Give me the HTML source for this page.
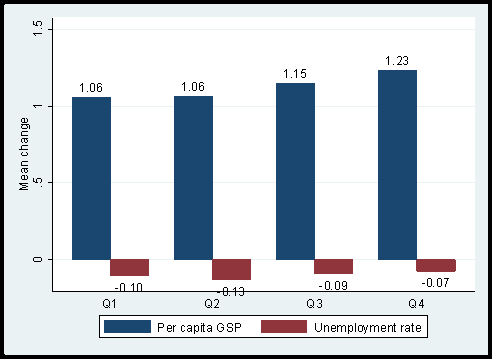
<!DOCTYPE html>
<html>
<head>
<meta charset="utf-8">
<style>
html,body{margin:0;padding:0;background:#000;}
body{width:492px;height:359px;overflow:hidden;}
svg{display:block;}
</style>
</head>
<body>
<svg width="492" height="359" viewBox="0 0 492 359" shape-rendering="crispEdges">
<rect x="0" y="0" width="492" height="359" fill="#000"/>
<rect x="4" y="4" width="484" height="351" fill="#eaf2f3"/>
<rect x="4" y="4" width="1" height="1" fill="#000"/>
<rect x="4" y="354" width="1" height="1" fill="#000"/>
<rect x="52" y="17" width="423" height="275" fill="#fff"/>
<g fill="#eaf2f3">
<rect x="53" y="29" width="422" height="1"/>
<rect x="53" y="106" width="422" height="1"/>
<rect x="53" y="182" width="422" height="1"/>
<rect x="53" y="259" width="422" height="1"/>
</g>
<rect x="99.5" y="315.5" width="328" height="22" fill="#fff" stroke="#000" stroke-width="1"/>
<g fill="#1a476f">
<rect x="72" y="97" width="39" height="163"/>
<rect x="174" y="96" width="39" height="164"/>
<rect x="104" y="320" width="47" height="13"/>
</g>
<g fill="#90353b">
<rect x="110" y="259" width="39" height="17"/>
<rect x="212" y="259" width="39" height="21"/>
<rect x="314" y="259" width="39" height="15"/>
<rect x="417" y="259" width="38" height="13"/>
<rect x="416" y="260" width="40" height="11"/>
<rect x="261" y="320" width="46" height="13"/>
</g>
<g fill="#1a476f">
<rect x="276" y="83" width="39" height="177"/>
<rect x="378" y="70" width="39" height="190"/>
</g>
<g fill="#000">
<rect x="52" y="18" width="1" height="274"/>
<rect x="52" y="291" width="423" height="1"/>
<rect x="48" y="29" width="4" height="1"/>
<rect x="48" y="106" width="4" height="1"/>
<rect x="48" y="182" width="4" height="1"/>
<rect x="48" y="259" width="4" height="1"/>
</g>
<path fill="#000" d="M33 21h1v1h-1zM37 21h4v1h-4zM33 22h1v1h-1zM36 22h1v1h-1zM41 22h1v1h-1zM33 23h1v1h-1zM36 23h1v1h-1zM41 23h1v1h-1zM33 24h2v1h-2zM36 24h1v1h-1zM41 24h1v1h-1zM35 25h3v1h-3zM40 25h1v1h-1zM41 28h1v1h-1zM33 33h9v1h-9zM34 34h1v1h-1zM35 35h1v1h-1zM388 56h1v1h-1zM398 56h3v1h-3zM404 56h3v1h-3zM387 57h2v1h-2zM397 57h1v1h-1zM401 57h1v1h-1zM403 57h1v1h-1zM407 57h1v1h-1zM386 58h1v1h-1zM388 58h1v1h-1zM401 58h1v1h-1zM407 58h1v1h-1zM388 59h1v1h-1zM401 59h1v1h-1zM407 59h1v1h-1zM388 60h1v1h-1zM400 60h1v1h-1zM405 60h2v1h-2zM388 61h1v1h-1zM400 61h1v1h-1zM407 61h1v1h-1zM388 62h1v1h-1zM399 62h1v1h-1zM407 62h1v1h-1zM388 63h1v1h-1zM398 63h1v1h-1zM403 63h1v1h-1zM407 63h1v1h-1zM388 64h1v1h-1zM393 64h1v1h-1zM397 64h5v1h-5zM404 64h3v1h-3zM286 69h1v1h-1zM296 69h1v1h-1zM302 69h4v1h-4zM285 70h2v1h-2zM295 70h2v1h-2zM302 70h1v1h-1zM284 71h1v1h-1zM286 71h1v1h-1zM294 71h1v1h-1zM296 71h1v1h-1zM301 71h1v1h-1zM286 72h1v1h-1zM296 72h1v1h-1zM301 72h4v1h-4zM286 73h1v1h-1zM296 73h1v1h-1zM301 73h1v1h-1zM305 73h1v1h-1zM286 74h1v1h-1zM296 74h1v1h-1zM305 74h1v1h-1zM286 75h1v1h-1zM296 75h1v1h-1zM305 75h1v1h-1zM286 76h1v1h-1zM296 76h1v1h-1zM301 76h1v1h-1zM305 76h1v1h-1zM286 77h1v1h-1zM291 77h1v1h-1zM296 77h1v1h-1zM302 77h3v1h-3zM184 82h1v1h-1zM193 82h3v1h-3zM200 82h3v1h-3zM82 83h1v1h-1zM91 83h3v1h-3zM98 83h3v1h-3zM183 83h2v1h-2zM192 83h1v1h-1zM196 83h1v1h-1zM199 83h1v1h-1zM203 83h1v1h-1zM81 84h2v1h-2zM90 84h1v1h-1zM94 84h1v1h-1zM97 84h1v1h-1zM101 84h1v1h-1zM182 84h1v1h-1zM184 84h1v1h-1zM192 84h1v1h-1zM196 84h1v1h-1zM199 84h1v1h-1zM80 85h1v1h-1zM82 85h1v1h-1zM90 85h1v1h-1zM94 85h1v1h-1zM97 85h1v1h-1zM184 85h1v1h-1zM192 85h1v1h-1zM196 85h1v1h-1zM199 85h1v1h-1zM201 85h2v1h-2zM82 86h1v1h-1zM90 86h1v1h-1zM94 86h1v1h-1zM97 86h1v1h-1zM99 86h2v1h-2zM184 86h1v1h-1zM192 86h1v1h-1zM196 86h1v1h-1zM199 86h2v1h-2zM203 86h1v1h-1zM82 87h1v1h-1zM90 87h1v1h-1zM94 87h1v1h-1zM97 87h2v1h-2zM101 87h1v1h-1zM184 87h1v1h-1zM192 87h1v1h-1zM196 87h1v1h-1zM199 87h1v1h-1zM203 87h1v1h-1zM82 88h1v1h-1zM90 88h1v1h-1zM94 88h1v1h-1zM97 88h1v1h-1zM101 88h1v1h-1zM184 88h1v1h-1zM192 88h1v1h-1zM196 88h1v1h-1zM199 88h1v1h-1zM203 88h1v1h-1zM82 89h1v1h-1zM90 89h1v1h-1zM94 89h1v1h-1zM97 89h1v1h-1zM101 89h1v1h-1zM184 89h1v1h-1zM192 89h1v1h-1zM196 89h1v1h-1zM199 89h1v1h-1zM203 89h1v1h-1zM82 90h1v1h-1zM90 90h1v1h-1zM94 90h1v1h-1zM97 90h1v1h-1zM101 90h1v1h-1zM184 90h1v1h-1zM189 90h1v1h-1zM193 90h3v1h-3zM200 90h3v1h-3zM82 91h1v1h-1zM87 91h1v1h-1zM91 91h3v1h-3zM98 91h3v1h-3zM33 105h9v1h-9zM34 106h1v1h-1zM35 107h1v1h-1zM22 118h3v1h-3zM26 118h1v1h-1zM21 119h1v1h-1zM24 119h1v1h-1zM27 119h1v1h-1zM21 120h1v1h-1zM24 120h1v1h-1zM27 120h1v1h-1zM21 121h1v1h-1zM24 121h1v1h-1zM27 121h1v1h-1zM22 122h5v1h-5zM21 124h8v1h-8zM22 125h1v1h-1zM26 125h1v1h-1zM29 125h1v1h-1zM21 126h1v1h-1zM27 126h1v1h-1zM29 126h1v1h-1zM21 127h1v1h-1zM27 127h1v1h-1zM29 127h1v1h-1zM22 128h5v1h-5zM29 128h1v1h-1zM22 131h6v1h-6zM21 132h1v1h-1zM21 133h1v1h-1zM21 134h1v1h-1zM21 135h7v1h-7zM22 138h6v1h-6zM21 139h1v1h-1zM24 139h1v1h-1zM26 139h1v1h-1zM21 140h1v1h-1zM24 140h1v1h-1zM27 140h1v1h-1zM21 141h1v1h-1zM24 141h1v1h-1zM27 141h1v1h-1zM22 142h1v1h-1zM25 142h2v1h-2zM22 145h6v1h-6zM21 146h1v1h-1zM21 147h1v1h-1zM21 148h1v1h-1zM19 149h9v1h-9zM22 152h1v1h-1zM26 152h1v1h-1zM21 153h1v1h-1zM27 153h1v1h-1zM21 154h1v1h-1zM27 154h1v1h-1zM22 155h5v1h-5zM22 161h6v1h-6zM21 162h1v1h-1zM21 163h1v1h-1zM21 164h1v1h-1zM21 165h7v1h-7zM22 168h6v1h-6zM21 169h1v1h-1zM24 169h1v1h-1zM26 169h1v1h-1zM21 170h1v1h-1zM24 170h1v1h-1zM27 170h1v1h-1zM21 171h1v1h-1zM24 171h1v1h-1zM27 171h1v1h-1zM22 172h1v1h-1zM25 172h2v1h-2zM22 175h3v1h-3zM26 175h1v1h-1zM21 176h1v1h-1zM24 176h1v1h-1zM27 176h1v1h-1zM21 177h1v1h-1zM24 177h1v1h-1zM27 177h1v1h-1zM21 178h1v1h-1zM24 178h1v1h-1zM27 178h1v1h-1zM33 178h1v1h-1zM37 178h4v1h-4zM22 179h5v1h-5zM33 179h1v1h-1zM36 179h1v1h-1zM41 179h1v1h-1zM33 180h1v1h-1zM36 180h1v1h-1zM41 180h1v1h-1zM33 181h2v1h-2zM36 181h1v1h-1zM41 181h1v1h-1zM35 182h3v1h-3zM40 182h1v1h-1zM19 183h9v1h-9zM20 184h2v1h-2zM22 185h4v1h-4zM26 186h2v1h-2zM41 186h1v1h-1zM22 187h4v1h-4zM20 188h2v1h-2zM19 189h9v1h-9zM34 257h7v1h-7zM33 258h1v1h-1zM41 258h1v1h-1zM33 259h1v1h-1zM41 259h1v1h-1zM33 260h1v1h-1zM41 260h1v1h-1zM34 261h7v1h-7zM428 278h3v1h-3zM438 278h3v1h-3zM444 278h5v1h-5zM427 279h1v1h-1zM431 279h1v1h-1zM437 279h1v1h-1zM441 279h1v1h-1zM447 279h1v1h-1zM427 280h1v1h-1zM431 280h1v1h-1zM437 280h1v1h-1zM441 280h1v1h-1zM447 280h1v1h-1zM326 281h3v1h-3zM336 281h3v1h-3zM343 281h3v1h-3zM427 281h1v1h-1zM431 281h1v1h-1zM437 281h1v1h-1zM441 281h1v1h-1zM446 281h1v1h-1zM325 282h1v1h-1zM329 282h1v1h-1zM335 282h1v1h-1zM339 282h1v1h-1zM342 282h1v1h-1zM346 282h1v1h-1zM427 282h1v1h-1zM431 282h1v1h-1zM437 282h1v1h-1zM441 282h1v1h-1zM446 282h1v1h-1zM121 283h3v1h-3zM133 283h1v1h-1zM138 283h3v1h-3zM325 283h1v1h-1zM329 283h1v1h-1zM335 283h1v1h-1zM339 283h1v1h-1zM342 283h1v1h-1zM346 283h1v1h-1zM422 283h3v1h-3zM427 283h1v1h-1zM431 283h1v1h-1zM437 283h1v1h-1zM441 283h1v1h-1zM446 283h1v1h-1zM120 284h1v1h-1zM124 284h1v1h-1zM132 284h2v1h-2zM137 284h1v1h-1zM141 284h1v1h-1zM325 284h1v1h-1zM329 284h1v1h-1zM335 284h1v1h-1zM339 284h1v1h-1zM342 284h1v1h-1zM346 284h1v1h-1zM427 284h1v1h-1zM431 284h1v1h-1zM437 284h1v1h-1zM441 284h1v1h-1zM445 284h1v1h-1zM120 285h1v1h-1zM124 285h1v1h-1zM131 285h1v1h-1zM133 285h1v1h-1zM137 285h1v1h-1zM141 285h1v1h-1zM325 285h1v1h-1zM329 285h1v1h-1zM335 285h1v1h-1zM339 285h1v1h-1zM342 285h1v1h-1zM345 285h2v1h-2zM427 285h1v1h-1zM431 285h1v1h-1zM437 285h1v1h-1zM441 285h1v1h-1zM445 285h1v1h-1zM120 286h1v1h-1zM124 286h1v1h-1zM133 286h1v1h-1zM137 286h1v1h-1zM141 286h1v1h-1zM319 286h3v1h-3zM325 286h1v1h-1zM329 286h1v1h-1zM335 286h1v1h-1zM339 286h1v1h-1zM343 286h2v1h-2zM346 286h1v1h-1zM428 286h3v1h-3zM433 286h1v1h-1zM438 286h3v1h-3zM445 286h1v1h-1zM120 287h1v1h-1zM124 287h1v1h-1zM133 287h1v1h-1zM137 287h1v1h-1zM141 287h1v1h-1zM224 287h3v1h-3zM235 287h1v1h-1zM240 287h3v1h-3zM325 287h1v1h-1zM329 287h1v1h-1zM335 287h1v1h-1zM339 287h1v1h-1zM346 287h1v1h-1zM115 288h3v1h-3zM120 288h1v1h-1zM124 288h1v1h-1zM133 288h1v1h-1zM137 288h1v1h-1zM141 288h1v1h-1zM223 288h1v1h-1zM227 288h1v1h-1zM234 288h2v1h-2zM239 288h1v1h-1zM243 288h1v1h-1zM325 288h1v1h-1zM329 288h1v1h-1zM335 288h1v1h-1zM339 288h1v1h-1zM342 288h1v1h-1zM346 288h1v1h-1zM120 289h1v1h-1zM124 289h1v1h-1zM133 289h1v1h-1zM137 289h1v1h-1zM141 289h1v1h-1zM223 289h1v1h-1zM227 289h1v1h-1zM233 289h1v1h-1zM235 289h1v1h-1zM243 289h1v1h-1zM326 289h3v1h-3zM331 289h1v1h-1zM336 289h3v1h-3zM343 289h3v1h-3zM120 290h1v1h-1zM124 290h1v1h-1zM133 290h1v1h-1zM137 290h1v1h-1zM141 290h1v1h-1zM223 290h1v1h-1zM227 290h1v1h-1zM235 290h1v1h-1zM243 290h1v1h-1zM121 291h3v1h-3zM126 291h1v1h-1zM133 291h1v1h-1zM138 291h3v1h-3zM223 291h1v1h-1zM227 291h1v1h-1zM235 291h1v1h-1zM241 291h2v1h-2zM217 292h3v1h-3zM223 292h1v1h-1zM227 292h1v1h-1zM235 292h1v1h-1zM243 292h1v1h-1zM223 293h1v1h-1zM227 293h1v1h-1zM235 293h1v1h-1zM243 293h1v1h-1zM223 294h1v1h-1zM227 294h1v1h-1zM235 294h1v1h-1zM239 294h1v1h-1zM243 294h1v1h-1zM224 295h3v1h-3zM229 295h1v1h-1zM235 295h1v1h-1zM240 295h3v1h-3zM105 299h3v1h-3zM114 299h1v1h-1zM207 299h3v1h-3zM215 299h3v1h-3zM309 299h3v1h-3zM318 299h3v1h-3zM411 299h3v1h-3zM422 299h1v1h-1zM104 300h1v1h-1zM108 300h1v1h-1zM113 300h2v1h-2zM206 300h1v1h-1zM210 300h1v1h-1zM214 300h1v1h-1zM218 300h1v1h-1zM308 300h1v1h-1zM312 300h1v1h-1zM317 300h1v1h-1zM321 300h1v1h-1zM410 300h1v1h-1zM414 300h1v1h-1zM421 300h2v1h-2zM103 301h1v1h-1zM109 301h1v1h-1zM112 301h1v1h-1zM114 301h1v1h-1zM205 301h1v1h-1zM211 301h1v1h-1zM218 301h1v1h-1zM307 301h1v1h-1zM313 301h1v1h-1zM321 301h1v1h-1zM409 301h1v1h-1zM415 301h1v1h-1zM421 301h2v1h-2zM103 302h1v1h-1zM109 302h1v1h-1zM114 302h1v1h-1zM205 302h1v1h-1zM211 302h1v1h-1zM218 302h1v1h-1zM307 302h1v1h-1zM313 302h1v1h-1zM321 302h1v1h-1zM409 302h1v1h-1zM415 302h1v1h-1zM420 302h1v1h-1zM422 302h1v1h-1zM103 303h1v1h-1zM109 303h1v1h-1zM114 303h1v1h-1zM205 303h1v1h-1zM211 303h1v1h-1zM217 303h1v1h-1zM307 303h1v1h-1zM313 303h1v1h-1zM319 303h2v1h-2zM409 303h1v1h-1zM415 303h1v1h-1zM420 303h1v1h-1zM422 303h1v1h-1zM103 304h1v1h-1zM109 304h1v1h-1zM114 304h1v1h-1zM205 304h1v1h-1zM211 304h1v1h-1zM217 304h1v1h-1zM307 304h1v1h-1zM313 304h1v1h-1zM321 304h1v1h-1zM409 304h1v1h-1zM415 304h1v1h-1zM419 304h1v1h-1zM422 304h1v1h-1zM103 305h1v1h-1zM106 305h2v1h-2zM109 305h1v1h-1zM114 305h1v1h-1zM205 305h1v1h-1zM208 305h2v1h-2zM211 305h1v1h-1zM216 305h1v1h-1zM307 305h1v1h-1zM310 305h2v1h-2zM313 305h1v1h-1zM321 305h1v1h-1zM409 305h1v1h-1zM412 305h2v1h-2zM415 305h1v1h-1zM419 305h5v1h-5zM104 306h1v1h-1zM108 306h1v1h-1zM114 306h1v1h-1zM206 306h1v1h-1zM210 306h1v1h-1zM215 306h1v1h-1zM308 306h1v1h-1zM312 306h1v1h-1zM317 306h1v1h-1zM321 306h1v1h-1zM410 306h1v1h-1zM414 306h1v1h-1zM422 306h1v1h-1zM105 307h3v1h-3zM109 307h1v1h-1zM114 307h1v1h-1zM207 307h3v1h-3zM211 307h1v1h-1zM214 307h5v1h-5zM309 307h3v1h-3zM313 307h1v1h-1zM318 307h3v1h-3zM411 307h3v1h-3zM415 307h1v1h-1zM422 307h1v1h-1zM158 323h5v1h-5zM201 323h1v1h-1zM203 323h1v1h-1zM219 323h3v1h-3zM228 323h4v1h-4zM235 323h5v1h-5zM315 323h1v1h-1zM321 323h1v1h-1zM355 323h1v1h-1zM394 323h1v1h-1zM412 323h1v1h-1zM158 324h1v1h-1zM163 324h1v1h-1zM203 324h1v1h-1zM218 324h1v1h-1zM222 324h1v1h-1zM227 324h1v1h-1zM232 324h1v1h-1zM235 324h1v1h-1zM240 324h1v1h-1zM315 324h1v1h-1zM321 324h1v1h-1zM355 324h1v1h-1zM394 324h1v1h-1zM412 324h1v1h-1zM158 325h1v1h-1zM163 325h1v1h-1zM168 325h3v1h-3zM173 325h1v1h-1zM175 325h1v1h-1zM182 325h2v1h-2zM188 325h3v1h-3zM194 325h1v1h-1zM196 325h2v1h-2zM201 325h4v1h-4zM208 325h3v1h-3zM217 325h1v1h-1zM223 325h1v1h-1zM227 325h1v1h-1zM232 325h1v1h-1zM235 325h1v1h-1zM240 325h1v1h-1zM315 325h1v1h-1zM321 325h1v1h-1zM324 325h1v1h-1zM326 325h2v1h-2zM332 325h3v1h-3zM337 325h1v1h-1zM339 325h2v1h-2zM343 325h2v1h-2zM348 325h1v1h-1zM350 325h2v1h-2zM355 325h1v1h-1zM359 325h3v1h-3zM363 325h1v1h-1zM367 325h1v1h-1zM370 325h1v1h-1zM372 325h2v1h-2zM376 325h2v1h-2zM382 325h3v1h-3zM388 325h1v1h-1zM390 325h2v1h-2zM393 325h3v1h-3zM401 325h1v1h-1zM403 325h1v1h-1zM406 325h3v1h-3zM411 325h3v1h-3zM417 325h3v1h-3zM158 326h1v1h-1zM163 326h1v1h-1zM167 326h1v1h-1zM171 326h1v1h-1zM173 326h2v1h-2zM181 326h1v1h-1zM184 326h1v1h-1zM187 326h1v1h-1zM191 326h1v1h-1zM194 326h2v1h-2zM198 326h1v1h-1zM201 326h1v1h-1zM203 326h1v1h-1zM207 326h1v1h-1zM211 326h1v1h-1zM217 326h1v1h-1zM227 326h1v1h-1zM235 326h1v1h-1zM240 326h1v1h-1zM315 326h1v1h-1zM321 326h1v1h-1zM324 326h2v1h-2zM328 326h1v1h-1zM331 326h1v1h-1zM335 326h1v1h-1zM337 326h2v1h-2zM341 326h2v1h-2zM345 326h1v1h-1zM348 326h2v1h-2zM352 326h1v1h-1zM355 326h1v1h-1zM358 326h1v1h-1zM362 326h2v1h-2zM367 326h1v1h-1zM370 326h2v1h-2zM374 326h2v1h-2zM378 326h1v1h-1zM381 326h1v1h-1zM385 326h1v1h-1zM388 326h2v1h-2zM392 326h1v1h-1zM394 326h1v1h-1zM401 326h2v1h-2zM405 326h1v1h-1zM409 326h1v1h-1zM412 326h1v1h-1zM416 326h1v1h-1zM420 326h1v1h-1zM158 327h5v1h-5zM167 327h1v1h-1zM171 327h1v1h-1zM173 327h1v1h-1zM181 327h1v1h-1zM191 327h1v1h-1zM194 327h1v1h-1zM198 327h1v1h-1zM201 327h1v1h-1zM203 327h1v1h-1zM211 327h1v1h-1zM217 327h1v1h-1zM221 327h3v1h-3zM228 327h4v1h-4zM235 327h5v1h-5zM315 327h1v1h-1zM321 327h1v1h-1zM324 327h1v1h-1zM328 327h1v1h-1zM331 327h1v1h-1zM335 327h1v1h-1zM337 327h1v1h-1zM341 327h1v1h-1zM345 327h1v1h-1zM348 327h1v1h-1zM352 327h1v1h-1zM355 327h1v1h-1zM358 327h1v1h-1zM362 327h1v1h-1zM364 327h1v1h-1zM366 327h1v1h-1zM370 327h1v1h-1zM374 327h1v1h-1zM378 327h1v1h-1zM381 327h1v1h-1zM385 327h1v1h-1zM388 327h1v1h-1zM392 327h1v1h-1zM394 327h1v1h-1zM401 327h1v1h-1zM409 327h1v1h-1zM412 327h1v1h-1zM416 327h1v1h-1zM420 327h1v1h-1zM158 328h1v1h-1zM167 328h5v1h-5zM173 328h1v1h-1zM181 328h1v1h-1zM188 328h4v1h-4zM194 328h1v1h-1zM198 328h1v1h-1zM201 328h1v1h-1zM203 328h1v1h-1zM208 328h4v1h-4zM217 328h1v1h-1zM223 328h1v1h-1zM232 328h1v1h-1zM235 328h1v1h-1zM315 328h1v1h-1zM321 328h1v1h-1zM324 328h1v1h-1zM328 328h1v1h-1zM331 328h5v1h-5zM337 328h1v1h-1zM341 328h1v1h-1zM345 328h1v1h-1zM348 328h1v1h-1zM352 328h1v1h-1zM355 328h1v1h-1zM358 328h1v1h-1zM362 328h1v1h-1zM364 328h1v1h-1zM366 328h1v1h-1zM370 328h1v1h-1zM374 328h1v1h-1zM378 328h1v1h-1zM381 328h5v1h-5zM388 328h1v1h-1zM392 328h1v1h-1zM394 328h1v1h-1zM401 328h1v1h-1zM406 328h4v1h-4zM412 328h1v1h-1zM416 328h5v1h-5zM158 329h1v1h-1zM167 329h1v1h-1zM173 329h1v1h-1zM181 329h1v1h-1zM187 329h1v1h-1zM191 329h1v1h-1zM194 329h1v1h-1zM198 329h1v1h-1zM201 329h1v1h-1zM203 329h1v1h-1zM207 329h1v1h-1zM211 329h1v1h-1zM217 329h1v1h-1zM223 329h1v1h-1zM227 329h1v1h-1zM232 329h1v1h-1zM235 329h1v1h-1zM315 329h1v1h-1zM321 329h1v1h-1zM324 329h1v1h-1zM328 329h1v1h-1zM331 329h1v1h-1zM337 329h1v1h-1zM341 329h1v1h-1zM345 329h1v1h-1zM348 329h1v1h-1zM352 329h1v1h-1zM355 329h1v1h-1zM358 329h1v1h-1zM362 329h1v1h-1zM364 329h1v1h-1zM366 329h1v1h-1zM370 329h1v1h-1zM374 329h1v1h-1zM378 329h1v1h-1zM381 329h1v1h-1zM388 329h1v1h-1zM392 329h1v1h-1zM394 329h1v1h-1zM401 329h1v1h-1zM405 329h1v1h-1zM409 329h1v1h-1zM412 329h1v1h-1zM416 329h1v1h-1zM158 330h1v1h-1zM167 330h1v1h-1zM171 330h1v1h-1zM173 330h1v1h-1zM181 330h1v1h-1zM184 330h1v1h-1zM187 330h1v1h-1zM190 330h2v1h-2zM194 330h2v1h-2zM198 330h1v1h-1zM201 330h1v1h-1zM203 330h1v1h-1zM207 330h1v1h-1zM210 330h2v1h-2zM218 330h1v1h-1zM222 330h1v1h-1zM227 330h1v1h-1zM232 330h1v1h-1zM235 330h1v1h-1zM316 330h1v1h-1zM320 330h1v1h-1zM324 330h1v1h-1zM328 330h1v1h-1zM331 330h1v1h-1zM335 330h1v1h-1zM337 330h1v1h-1zM341 330h1v1h-1zM345 330h1v1h-1zM348 330h2v1h-2zM352 330h1v1h-1zM355 330h1v1h-1zM358 330h1v1h-1zM362 330h1v1h-1zM365 330h1v1h-1zM370 330h1v1h-1zM374 330h1v1h-1zM378 330h1v1h-1zM381 330h1v1h-1zM385 330h1v1h-1zM388 330h1v1h-1zM392 330h1v1h-1zM394 330h1v1h-1zM401 330h1v1h-1zM405 330h1v1h-1zM408 330h2v1h-2zM412 330h1v1h-1zM416 330h1v1h-1zM420 330h1v1h-1zM158 331h1v1h-1zM168 331h3v1h-3zM173 331h1v1h-1zM182 331h2v1h-2zM188 331h2v1h-2zM191 331h1v1h-1zM194 331h1v1h-1zM196 331h2v1h-2zM201 331h1v1h-1zM203 331h2v1h-2zM208 331h2v1h-2zM211 331h1v1h-1zM219 331h3v1h-3zM228 331h4v1h-4zM235 331h1v1h-1zM317 331h3v1h-3zM324 331h1v1h-1zM328 331h1v1h-1zM332 331h3v1h-3zM337 331h1v1h-1zM341 331h1v1h-1zM345 331h1v1h-1zM348 331h1v1h-1zM350 331h2v1h-2zM355 331h1v1h-1zM359 331h3v1h-3zM365 331h1v1h-1zM370 331h1v1h-1zM374 331h1v1h-1zM378 331h1v1h-1zM382 331h3v1h-3zM388 331h1v1h-1zM392 331h1v1h-1zM394 331h2v1h-2zM401 331h1v1h-1zM406 331h2v1h-2zM409 331h1v1h-1zM412 331h2v1h-2zM417 331h3v1h-3zM194 332h1v1h-1zM348 332h1v1h-1zM365 332h1v1h-1zM194 333h1v1h-1zM348 333h1v1h-1zM364 333h1v1h-1z"/>
</svg>
</body>
</html>
